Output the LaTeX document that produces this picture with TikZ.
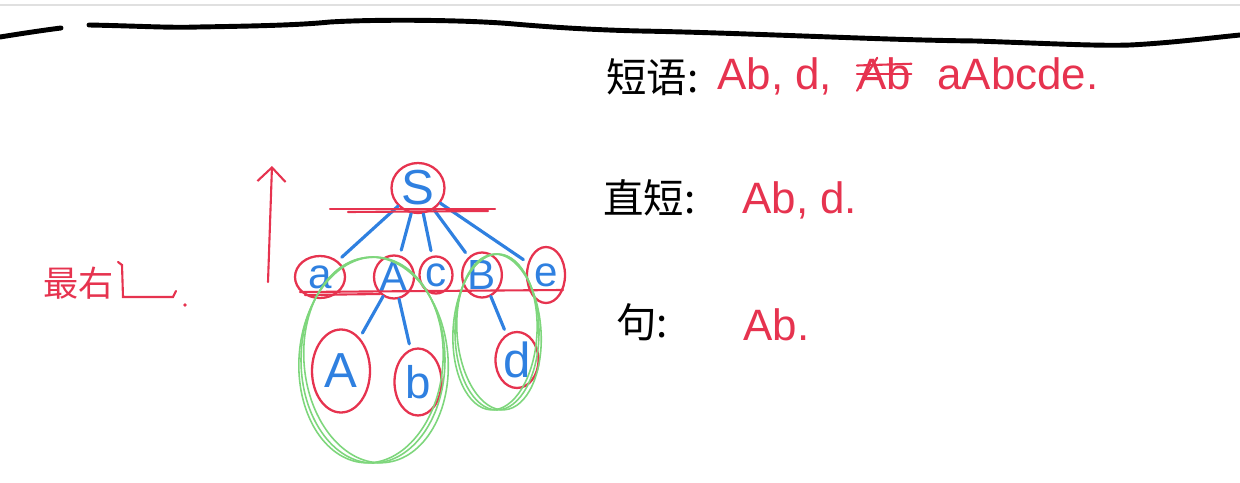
\documentclass[tikz,border=0pt]{standalone}
\usepackage{fontspec}
\setmainfont{Liberation Sans}
\newfontfamily\cjk{Noto Sans CJK SC}
\usetikzlibrary{arrows.meta, positioning, shapes.geometric}
\definecolor{inkred}{HTML}{E6334F}
\definecolor{inkblue}{HTML}{2F80E0}
\definecolor{inkgreen}{HTML}{7ED67C}

\begin{document}
\begin{tikzpicture}[x=0.02cm, y=-0.02cm,
    sym/.style={text=inkblue, inner sep=0pt, font=\fontsize{#1}{#1}\selectfont},
    sym/.default=24,
    ring/.style 2 args={draw=inkred, line width=1.3pt, ellipse, minimum width=#1cm, minimum height=#2cm},
    branch/.style={inkblue, line width=1.8pt, line cap=round, shorten >=3pt},
    cut/.style={inkred, line width=1.2pt, line cap=round},
    hull/.style={inkgreen, line width=0.9pt},
    heading/.style={font=\cjk\fontsize{23}{26}\selectfont, anchor=west, inner sep=0pt},
    answer/.style={text=inkred, font=\fontsize{25}{28}\selectfont, anchor=base west, inner sep=0pt},
  ]
  \useasboundingbox (0,0) rectangle (1240,483);

  % page edge and top stroke
  \draw[black!12, line width=1.5pt] (0,5) -- (1240,5);
  \draw[black, line width=2.8pt, line cap=round] (0,37) .. controls (25,33) and (45,30) .. (61,28);
  \draw[black, line width=2.8pt, line cap=round] (89,25) .. controls (140,26) and (170,28) .. (198,27)
    .. controls (260,26) and (300,25) .. (330,22) .. controls (380,19) and (470,20) .. (514,24)
    .. controls (560,28) and (600,30) .. (640,31) .. controls (750,33) and (880,40) .. (976,41)
    .. controls (1060,44) and (1100,46) .. (1130,45) .. controls (1170,43) and (1210,38) .. (1240,35);

  % tree
  \node[sym=28, ring={1.06}{1.0}] (S) at (418,188) {S};
  \node[sym, ring={1.0}{0.84}] (a) at (320,277) {a};
  \node[sym, ring={0.8}{0.86}] (A) at (394,277) {A};
  \node[sym, ring={0.66}{0.74}] (c) at (436,275) {c};
  \node[sym, ring={0.76}{0.9}] (B) at (482,275) {B};
  \node[sym, ring={0.76}{1.12}] (e) at (546,275) {e};
  \node[sym=28, ring={1.16}{1.66}] (A2) at (341,371) {A};
  \node[sym=26, ring={0.94}{1.34}] (b) at (418,382) {b};
  \node[sym=28, ring={0.86}{1.12}] (d) at (517,360) {d};

  \foreach \k in {a,A,c,B,e}
    \draw[branch] (S) -- (\k);
  \draw[branch] (A) -- (A2);
  \draw[branch] (A) -- (b);
  \draw[branch] (B) -- (d);

  % cuts
  \draw[cut] (330,209) -- (495,209);
  \draw[cut] (348,212) -- (488,211);
  \draw[cut] (300,292) -- (563,290);
  \draw[cut] (305,295) -- (380,294);

  % green groups
  \foreach \r/\dx in {0/0, 5/3, -4/-2}
    \draw[hull] (373+\dx,360) ellipse [x radius=72, y radius=103, rotate=\r];
  \foreach \r/\dx in {0/0, 4/2, -3/-2}
    \draw[hull] (497+\dx,332) ellipse [x radius=42, y radius=78, rotate=\r];

  % direction
  \coordinate (up0) at (268,282);
  \coordinate (up1) at (272,166);
  \draw[cut, -{Straight Barb[length=8pt, width=16pt]}] (up0) -- (up1);

  \node[text=inkred, font=\cjk\fontsize{20}{24}\selectfont, anchor=west, inner sep=0pt] (dir) at (43,283) {最右};
  \draw[cut] (118,262) -- (122,265) -- (123,297) -- (173,297) -- (176,291);
  \fill[inkred] (185,305) circle (1pt);

  % notes
  \node[heading] (phrase) at (606,77) {短语:};
  \node[answer] (p1) at (717,90) {Ab, d,};
  \node[answer] (p2) at (857,90) {Ab};
  \node[answer] (p3) at (937,90) {aAbcde.};
  \draw[cut] (p2.west) -- (p2.east);
  \draw[cut] ([yshift=5pt]p2.west) -- ([yshift=6pt]p2.east);
  \draw[cut] (p2.south west) -- ([xshift=-4pt]p2.north);

  \node[heading] (simple) at (603,198) {直短:};
  \node[answer] (s1) at (742,213) {Ab, d.};

  \node[heading] (handle) at (616,322) {句:};
  \node[answer] (h1) at (743,340) {Ab.};
\end{tikzpicture}
\end{document}
